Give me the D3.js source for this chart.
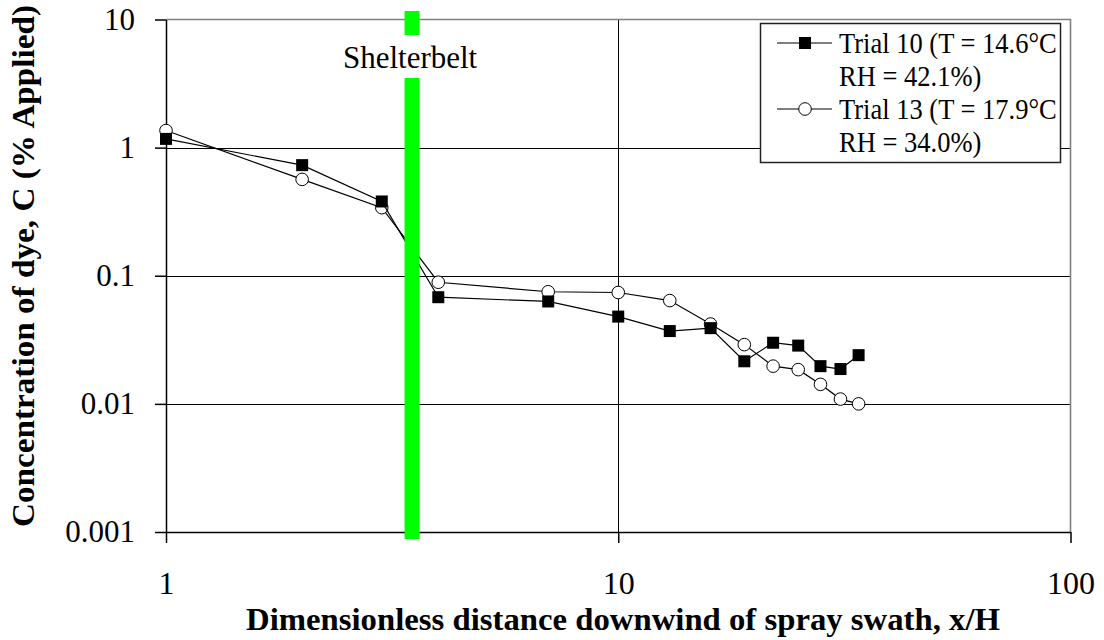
<!DOCTYPE html>
<html>
<head>
<meta charset="utf-8">
<script src="https://cdn.jsdelivr.net/npm/d3@7"></script>
<style>
  html, body { margin: 0; padding: 0; background: #fff; }
  svg { display: block; }
</style>
</head>
<body>
<svg id="chart" width="1104" height="640"></svg>
<script>
// Dimensionless downwind distance x/H of each sampling station
const distance = [1, 2, 3, 4, 7, 10, 13, 16, 19, 22, 25, 28, 31, 34];
// Dye concentration, % of applied
const trial10 = [1.17, 0.73, 0.38, 0.068, 0.063, 0.048, 0.037, 0.039, 0.0215, 0.030, 0.0285, 0.0197, 0.0187, 0.024];
const trial13 = [1.36, 0.565, 0.34, 0.089, 0.075, 0.074, 0.064, 0.042, 0.029, 0.0197, 0.0185, 0.0142, 0.0109, 0.0100];
const seriesNames = [["Trial 10 (T = 14.6°C", "RH = 42.1%)"], ["Trial 13 (T = 17.9°C", "RH = 34.0%)"]];
const shelterbeltX = 3.5;
const shelterbeltLabel = "Shelterbelt";
const xTicks = [1, 10, 100];
const xTickLabels = ["1", "10", "100"];
const yTicks = [0.001, 0.01, 0.1, 1, 10];
const yTickLabels = ["0.001", "0.01", "0.1", "1", "10"];
const xTitle = "Dimensionless distance downwind of spray swath, x/H";
const yTitle = "Concentration of dye, C (% Applied)";

const FONT = "'Liberation Serif', 'Times New Roman', Times, serif";
const svg = d3.select("#chart").style("font-family", FONT);
const plotLeft = 166, plotRight = 1070.5, plotTop = 19.5, plotBottom = 532;

const x = d3.scaleLog().domain([1, 100]).range([plotLeft, plotRight]);
const y = d3.scaleLog().domain([0.001, 10]).range([plotBottom, plotTop]);

// Gridlines
const grid = svg.append("g");
grid.selectAll("line.h").data(yTicks.filter(v => v > 0.001 && v < 10)).join("line")
  .attr("x1", plotLeft).attr("x2", plotRight)
  .attr("y1", d => Math.round(y(d)) + 0.5).attr("y2", d => Math.round(y(d)) + 0.5)
  .attr("stroke", "#000").attr("stroke-width", 1);
grid.selectAll("line.v").data([10]).join("line")
  .attr("x1", d => Math.round(x(d)) + 0.5).attr("x2", d => Math.round(x(d)) + 0.5)
  .attr("y1", plotTop).attr("y2", plotBottom)
  .attr("stroke", "#000").attr("stroke-width", 1);
// Plot area border at top and right
svg.append("path")
  .attr("d", `M${plotLeft},${plotTop}H${plotRight}V${plotBottom}`)
  .attr("fill", "none").attr("stroke", "#808080").attr("stroke-width", 1.6);

// Axes
const xAxis = svg.append("g")
  .attr("transform", `translate(0,${plotBottom})`)
  .call(d3.axisBottom(x).tickValues(xTicks).tickFormat((d, i) => xTickLabels[i]).tickSize(11).tickPadding(28).tickSizeOuter(0));
const yAxis = svg.append("g")
  .attr("transform", `translate(${plotLeft},0)`)
  .call(d3.axisLeft(y).tickValues(yTicks).tickFormat((d, i) => yTickLabels[i]).tickSize(11).tickPadding(20).tickSizeOuter(0));
[xAxis, yAxis].forEach(g => {
  g.attr("font-family", null);
  g.select(".domain").attr("stroke", "#000").attr("stroke-width", 1.5);
  g.selectAll(".tick line").attr("stroke", "#000").attr("stroke-width", 1.5);
  g.selectAll(".tick text").attr("fill", "#000").style("font-family", FONT).style("font-size", "31px");
});
xAxis.selectAll(".tick text").style("font-size", "32px");

// Series lines and markers
const line = d3.line().x(d => x(d[0])).y(d => y(d[1]));
const pts13 = distance.map((d, i) => [d, trial13[i]]);
const pts10 = distance.map((d, i) => [d, trial10[i]]);

svg.append("path").datum(pts13).attr("d", line)
  .attr("fill", "none").attr("stroke", "#000").attr("stroke-width", 1.2);
svg.append("g").selectAll("circle").data(pts13).join("circle")
  .attr("cx", d => x(d[0])).attr("cy", d => y(d[1])).attr("r", 6.3)
  .attr("fill", "#fff").attr("stroke", "#000").attr("stroke-width", 1);

svg.append("path").datum(pts10).attr("d", line)
  .attr("fill", "none").attr("stroke", "#000").attr("stroke-width", 1.2);
svg.append("g").selectAll("rect").data(pts10).join("rect")
  .attr("x", d => x(d[0]) - 6).attr("y", d => y(d[1]) - 6)
  .attr("width", 12).attr("height", 12).attr("fill", "#000");

// Shelterbelt band with its label
const sbx = x(shelterbeltX);
svg.append("rect").attr("x", sbx - 7.5).attr("y", 11).attr("width", 15).attr("height", 24).attr("fill", "#00ff00");
svg.append("rect").attr("x", sbx - 7.5).attr("y", 78).attr("width", 15).attr("height", 539 - 78).attr("fill", "#00ff00");
svg.append("text").attr("x", sbx - 2).attr("y", 68).attr("text-anchor", "middle")
  .style("font-size", "31px").attr("fill", "#000").text(shelterbeltLabel);

// Legend
const lg = svg.append("g");
lg.append("rect").attr("x", 760.5).attr("y", 23.5).attr("width", 300).attr("height", 139)
  .attr("fill", "#fff").attr("stroke", "#222").attr("stroke-width", 1.5);
const rowY = [43, 76, 109, 142];
seriesNames.forEach((lines, k) => {
  const cy = rowY[k * 2];
  lg.append("line").attr("x1", 777).attr("x2", 832).attr("y1", cy).attr("y2", cy)
    .attr("stroke", "#000").attr("stroke-width", 1.2);
  if (k === 0) {
    lg.append("rect").attr("x", 799).attr("y", cy - 6).attr("width", 12).attr("height", 12).attr("fill", "#000");
  } else {
    lg.append("circle").attr("cx", 805).attr("cy", cy).attr("r", 6.3)
      .attr("fill", "#fff").attr("stroke", "#000").attr("stroke-width", 1);
  }
  lines.forEach((t, j) => {
    const txt = lg.append("text").attr("x", 839).attr("y", rowY[k * 2 + j]).attr("dy", "0.35em")
      .style("font-size", "26.5px").attr("fill", "#000").text(t);
    // Tall, narrow lettering: keep the 26.5px advance width, enlarge the glyph height
    const w = txt.node().getComputedTextLength();
    txt.style("font-size", "29.5px").attr("textLength", w).attr("lengthAdjust", "spacingAndGlyphs");
  });
});

// Axis titles
svg.append("text").attr("x", 623).attr("y", 630).attr("text-anchor", "middle")
  .style("font-size", "31px").attr("font-weight", "bold").attr("fill", "#000")
  .attr("textLength", 754).attr("lengthAdjust", "spacingAndGlyphs").text(xTitle);
svg.append("text").attr("transform", "translate(34,266) rotate(-90)").attr("text-anchor", "middle")
  .style("font-size", "31px").attr("font-weight", "bold").attr("fill", "#000")
  .attr("textLength", 522).attr("lengthAdjust", "spacingAndGlyphs").text(yTitle);
</script>
</body>
</html>
